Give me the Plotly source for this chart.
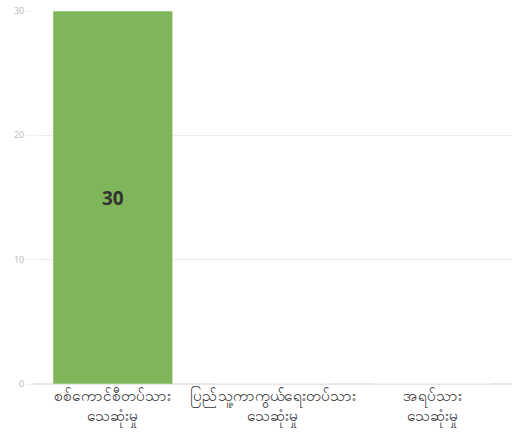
import plotly.graph_objects as go

categories = ["စစ်ကောင်စီတပ်သား<br>သေဆုံးမှု", "ပြည်သူ့ကာကွယ်ရေးတပ်သား<br>သေဆုံးမှု", "အရပ်သား<br>သေဆုံးမှု"]
values = [30, 0, 0]
labels = ["<b>30</b>", "", ""]
y_ticks = [0, 10, 20, 30]

fig = go.Figure(go.Bar(
    x=categories, y=values, text=labels, textposition="inside", insidetextanchor="middle",
    textfont=dict(size=19, color="#333333", family="Open Sans"),
    marker=dict(color="#80b65a", line=dict(width=1, color="rgba(255,255,255,0.5)")),
    hoverinfo="skip",
))
fig.update_layout(
    width=517, height=438,
    margin=dict(l=33, r=5, t=11, b=54, autoexpand=False),
    paper_bgcolor="white", plot_bgcolor="white",
    bargap=0.25,
    showlegend=False,
    font=dict(family="Noto Sans, sans-serif"),
)
fig.update_xaxes(tickfont=dict(size=15.5, color="#333333"), showgrid=False, showline=False, ticks="",
                 automargin=False)
fig.update_yaxes(range=[0, 30], tickvals=y_ticks, tickfont=dict(size=9, color="#bbbbbb"),
                 showgrid=True, gridcolor="#eeeeee", zeroline=True, zerolinecolor="#e6e6e6",
                 ticks="outside", ticklen=6, tickcolor="#eeeeee", automargin=False)
fig.write_html("out.html", post_script="document.body.style.margin='0';",
               config={"displayModeBar": False})
